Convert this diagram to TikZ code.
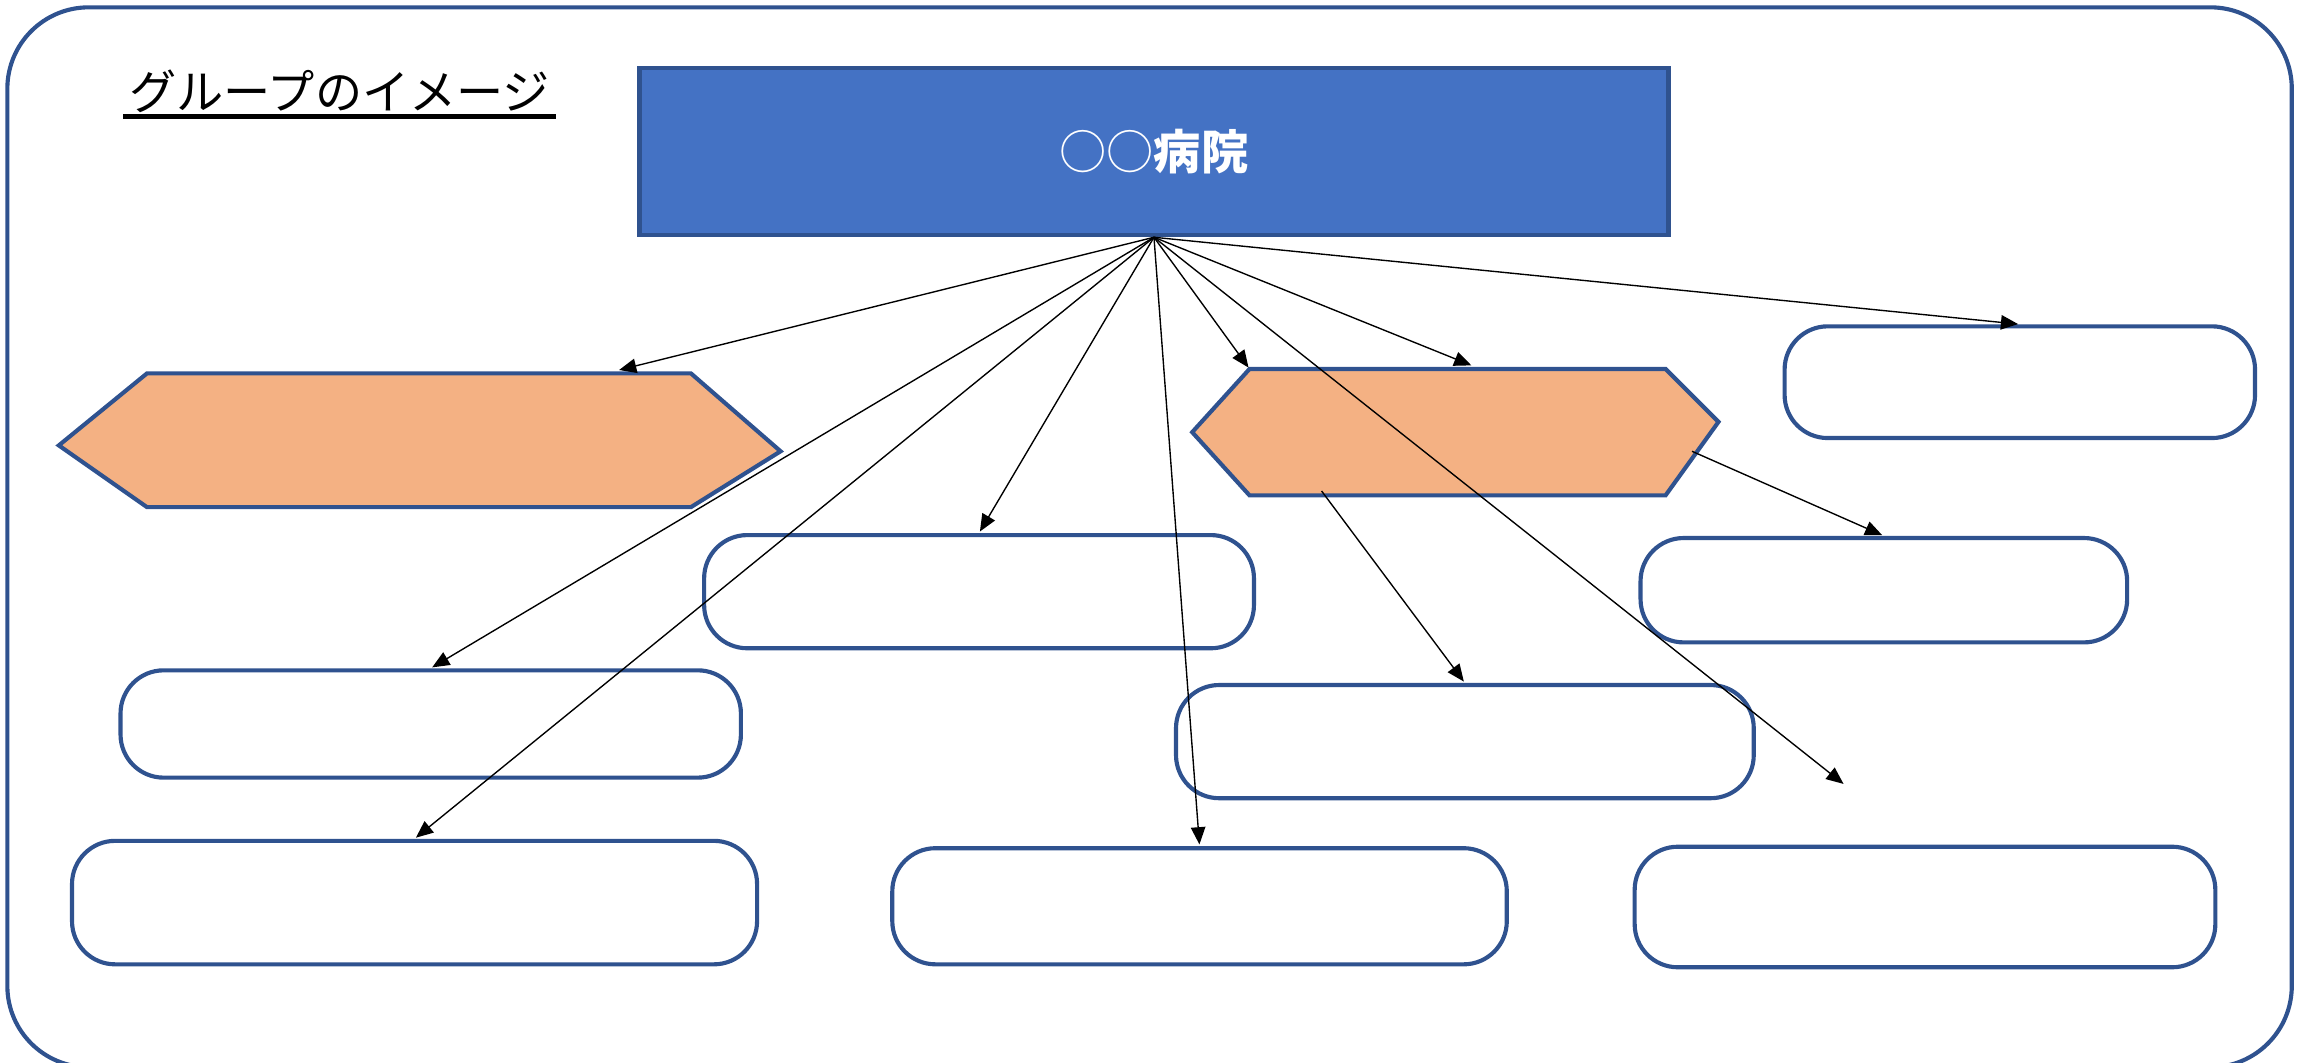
\documentclass[tikz,border=0pt]{standalone}
\usepackage{fontspec}
\newfontfamily\jpfont{Noto Sans CJK JP}
\usepackage{tikz}
\usetikzlibrary{arrows.meta,positioning,calc}
\definecolor{boxblue}{HTML}{4472C4}
\definecolor{lineblue}{HTML}{2F528F}
\definecolor{hexorange}{HTML}{F4B183}

\begin{document}
\begin{tikzpicture}[x=0.015cm,y=-0.015cm,>={Triangle[length=5pt,width=4.2pt]},
  head node/.style={rectangle,draw=lineblue,fill=boxblue,line width=1.2pt,
    minimum width=10.5cm,minimum height=1.71cm,text=white,
    font=\jpfont\fontsize{13.7}{16}\selectfont},
  member node/.style={rectangle,draw=lineblue,fill=white,line width=1.2pt,
    rounded corners=0.44cm,inner sep=0},
  hex/.style={draw=lineblue,fill=hexorange,line width=1.2pt},
  link/.style={->,thin,black,shorten >=0.5pt}]
    \useasboundingbox (0,0) rectangle (1568,723);
    % frame and title
    \draw[lineblue,line width=1.2pt,rounded corners=0.83cm] (5,5) rectangle (1559,726);
    \node[font=\jpfont\fontsize{13.7}{16}\selectfont,inner xsep=1.5pt,inner ysep=1pt](title) at (231,62){グループのイメージ};
    \draw[line width=1.4pt] (title.south west) -- (title.south east);

    \node[head node](hosp) at (785,103){○○{\bfseries 病院}};

    % hexagons
    \coordinate (lh1) at (40,303);
    \coordinate (lh2) at (100,254);
    \coordinate (lh3) at (470,254);
    \coordinate (lh4) at (531,307);
    \coordinate (lh5) at (470,345);
    \coordinate (lh6) at (100,345);
    \draw[hex] (lh1) -- (lh2) -- (lh3) -- (lh4) -- (lh5) -- (lh6) -- cycle;
    \coordinate (rh1) at (811,294);
    \coordinate (rh2) at (850,251);
    \coordinate (rh3) at (1133,251);
    \coordinate (rh4) at (1169,287);
    \coordinate (rh5) at (1133,337);
    \coordinate (rh6) at (850,337);
    \draw[hex] (rh1) -- (rh2) -- (rh3) -- (rh4) -- (rh5) -- (rh6) -- cycle;

    % member boxes
    \node[member node,minimum width=4.8cm,minimum height=1.14cm](m1) at (1374,260){};
    \node[member node,minimum width=5.61cm,minimum height=1.155cm](m2) at (666,402.5){};
    \node[member node,minimum width=4.965cm,minimum height=1.065cm](m3) at (1281.5,401.5){};
    \node[member node,minimum width=6.33cm,minimum height=1.095cm](m4) at (293,492.5){};
    \node[member node,minimum width=5.895cm,minimum height=1.155cm](m5) at (996.5,504.5){};
    \node[member node,minimum width=6.99cm,minimum height=1.26cm](m6) at (282,614){};
    \node[member node,minimum width=6.27cm,minimum height=1.185cm](m7) at (816,616.5){};
    \node[member node,minimum width=5.925cm,minimum height=1.23cm](m8) at (1309.5,617){};

    % arrow ends
    \coordinate (lhtop) at (420,252);
    \coordinate (rhtop) at (1002,249);
    \coordinate (rhlow) at (899,334);
    \coordinate (rhside) at (1151,307);
    \coordinate (free) at (1255,534);

    \path[link] (hosp.south) edge (lhtop)
        edge (m4.north)
        edge (m6.north)
        edge (m2.north)
        edge (m7.north)
        edge (rh2)
        edge (rhtop)
        edge (free)
        edge (m1.north);
    \path[link] (rhlow) edge (m5.north);
    \path[link] (rhside) edge (m3.north);
\end{tikzpicture}
\end{document}
